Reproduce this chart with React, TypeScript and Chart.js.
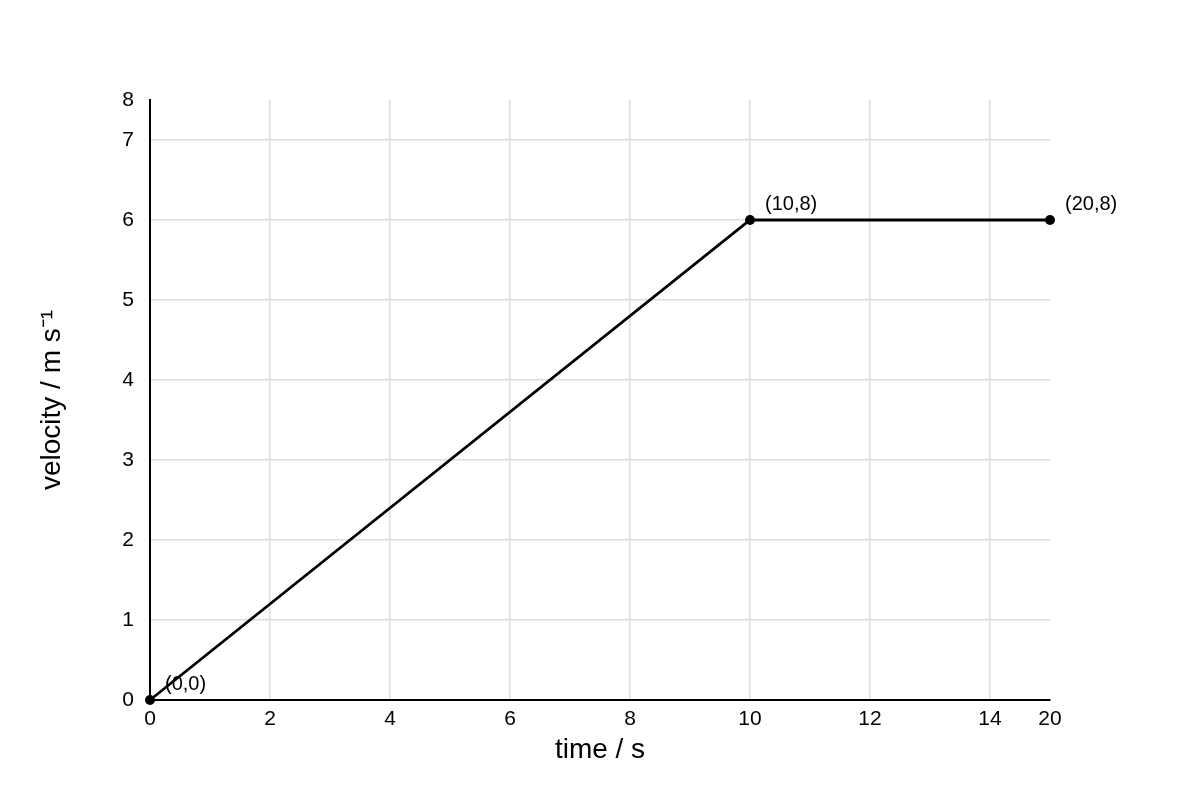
import { useEffect, useRef } from "react";
import { Chart, registerables } from "chart.js";

Chart.register(...registerables);

// positions of the points on the (irregular) axes
const timeValues = [0, 10, 15];
const velocityValues = [0, 6, 6];
const pointLabels = ["(0,0)", "(10,8)", "(20,8)"];

const xTickValues = [0, 2, 4, 6, 8, 10, 12, 14, 15];
const xTickLabels = ["0", "2", "4", "6", "8", "10", "12", "14", "20"];
const yTickValues = [0, 1, 2, 3, 4, 5, 6, 7, 7.5];
const yTickLabels = ["0", "1", "2", "3", "4", "5", "6", "7", "8"];

const FONT = "'Liberation Sans', Arial, sans-serif";

const pointLabelPlugin = {
  id: "pointLabels",
  beforeDatasetsDraw(chart: any) {
    const ctx = chart.ctx;
    const meta = chart.getDatasetMeta(0);
    ctx.save();
    ctx.font = `20px ${FONT}`;
    ctx.fillStyle = "#000";
    ctx.textAlign = "left";
    ctx.textBaseline = "middle";
    meta.data.forEach((pt: any, i: number) => {
      ctx.fillText(pointLabels[i], pt.x + 15, pt.y - 16);
    });
    ctx.restore();
  },
};

export default function App() {
  const chartRef = useRef<HTMLCanvasElement>(null);
  const chartInstance = useRef<Chart | null>(null);

  useEffect(() => {
    if (!chartRef.current) return;
    if (chartInstance.current) chartInstance.current.destroy();

    chartInstance.current = new Chart(chartRef.current, {
      type: "line",
      data: {
        datasets: [
          {
            data: timeValues.map((t, i) => ({ x: t, y: velocityValues[i] })),
            borderColor: "#000",
            backgroundColor: "#000",
            borderWidth: 2.8,
            pointRadius: 5,
            pointBackgroundColor: "#000",
            pointBorderWidth: 0,
            tension: 0,
            clip: false,
          },
        ],
      },
      options: {
        responsive: true,
        maintainAspectRatio: false,
        animation: false,
        layout: { padding: { top: 100, right: 150, left: 0, bottom: 0 } },
        plugins: {
          legend: { display: false },
          tooltip: { enabled: false },
        },
        scales: {
          x: {
            type: "linear",
            min: 0,
            max: 15,
            afterBuildTicks: (scale: any) => {
              scale.ticks = xTickValues.map((v) => ({ value: v }));
            },
            afterFit: (scale: any) => {
              scale.height = 100;
            },
            ticks: {
              autoSkip: false,
              maxRotation: 0,
              padding: 7,
              color: "#000",
              font: { family: FONT, size: 21 },
              callback: (value: any) => xTickLabels[xTickValues.indexOf(Number(value))],
            },
            grid: {
              drawTicks: false,
              lineWidth: 1.5,
              color: (c: any) =>
                c.tick && (c.tick.value === 0 || c.tick.value === 15) ? "rgba(0,0,0,0)" : "#dddddd",
            },
            border: { color: "#000", width: 2 },
            title: {
              display: true,
              text: "time / s",
              color: "#000",
              font: { family: FONT, size: 28 },
              padding: { top: 0, bottom: 33 },
            },
          },
          y: {
            type: "linear",
            min: 0,
            max: 7.5,
            afterBuildTicks: (scale: any) => {
              scale.ticks = yTickValues.map((v) => ({ value: v }));
            },
            afterFit: (scale: any) => {
              scale.width = 150;
            },
            ticks: {
              autoSkip: false,
              padding: 16,
              color: "#000",
              font: { family: FONT, size: 21 },
              callback: (value: any) => yTickLabels[yTickValues.indexOf(Number(value))],
            },
            grid: {
              drawTicks: false,
              lineWidth: 1.5,
              color: (c: any) =>
                c.tick && (c.tick.value === 0 || c.tick.value === 7.5) ? "rgba(0,0,0,0)" : "#dddddd",
            },
            border: { color: "#000", width: 2 },
            title: {
              display: true,
              text: "velocity / m s\u207B\u00B9",
              color: "#000",
              font: { family: FONT, size: 28 },
              padding: { top: 35, bottom: 0 },
            },
          },
        },
      },
      plugins: [pointLabelPlugin],
    });

    return () => {
      if (chartInstance.current) {
        chartInstance.current.destroy();
        chartInstance.current = null;
      }
    };
  }, []);

  return (
    <div style={{ position: "fixed", left: 0, top: 0, width: 1200, height: 800, background: "#fff" }}>
      <canvas ref={chartRef} />
    </div>
  );
}
